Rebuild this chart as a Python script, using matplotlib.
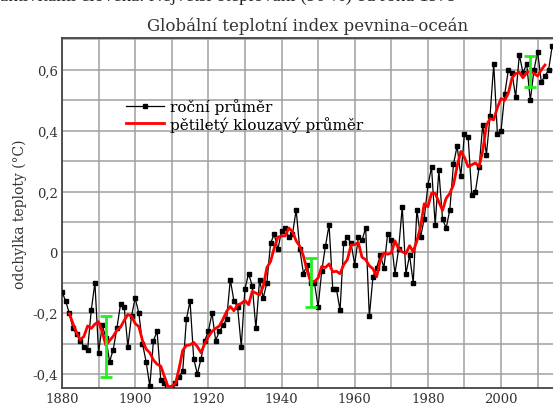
import numpy as np
import matplotlib
matplotlib.use("Agg")
import matplotlib.pyplot as plt
from matplotlib.ticker import MultipleLocator, FuncFormatter

years = list(range(1880, 2015))
annual = [
    -0.13, -0.16, -0.20, -0.25, -0.27, -0.29, -0.31, -0.32, -0.19, -0.10,  # 1880s
    -0.33, -0.24, -0.28, -0.36, -0.32, -0.25, -0.17, -0.18, -0.31, -0.21,  # 1890s
    -0.15, -0.20, -0.30, -0.36, -0.44, -0.29, -0.26, -0.42, -0.43, -0.47,  # 1900s
    -0.46, -0.43, -0.41, -0.39, -0.22, -0.16, -0.35, -0.40, -0.35, -0.29,  # 1910s
    -0.26, -0.20, -0.29, -0.26, -0.24, -0.22, -0.09, -0.16, -0.18, -0.31,  # 1920s
    -0.12, -0.07, -0.11, -0.25, -0.09, -0.15, -0.10, 0.03, 0.06, 0.01,     # 1930s
    0.07, 0.08, 0.05, 0.06, 0.14, 0.01, -0.07, -0.04, -0.10, -0.10,        # 1940s
    -0.18, -0.06, 0.02, 0.09, -0.12, -0.12, -0.19, 0.03, 0.05, 0.03,       # 1950s
    -0.04, 0.05, 0.04, 0.08, -0.21, -0.08, -0.05, -0.01, -0.05, 0.06,      # 1960s
    0.04, -0.07, 0.01, 0.15, -0.07, -0.01, -0.10, 0.14, 0.05, 0.11,        # 1970s
    0.22, 0.28, 0.09, 0.27, 0.11, 0.08, 0.14, 0.29, 0.35, 0.25,            # 1980s
    0.39, 0.38, 0.19, 0.20, 0.28, 0.42, 0.32, 0.45, 0.62, 0.39,            # 1990s
    0.40, 0.52, 0.60, 0.59, 0.51, 0.65, 0.59, 0.62, 0.50, 0.60,            # 2000s
    0.66, 0.56, 0.58, 0.60, 0.68,                                          # 2010s
]
err_years = [1892, 1948, 2008]
err_center = [-0.31, -0.10, 0.595]
err_half = [0.10, 0.08, 0.05]

years = np.array(years)
annual = np.array(annual)
# centred 5-year running mean
smooth = np.convolve(annual, np.ones(5) / 5, mode="valid")
smooth_years = years[2:-2]

plt.rcParams["font.family"] = ["DejaVu Serif"]
fig = plt.figure(figsize=(5.53, 4.10), dpi=100)
ax = fig.add_axes([0.1121, 0.0512, 0.8879, 0.853])

ax.plot(years, annual, "-", color="black", lw=0.9, marker="s", ms=3.2,
        label="roční průměr", zorder=3)
ax.plot(smooth_years, smooth, "-", color="red", lw=2, label="pětiletý klouzavý průměr",
        zorder=4)
ax.errorbar(err_years, err_center, yerr=err_half, fmt="none", ecolor="#22ee22",
            elinewidth=2, capsize=4, capthick=2, zorder=5)

ax.set_xlim(1880, 2014.2)
ax.set_ylim(-0.446, 0.704)
ax.xaxis.set_major_locator(MultipleLocator(20))
ax.xaxis.set_minor_locator(MultipleLocator(10))
ax.yaxis.set_major_locator(MultipleLocator(0.2))
ax.yaxis.set_minor_locator(MultipleLocator(0.1))
ax.yaxis.set_major_formatter(FuncFormatter(
    lambda v, p: "0" if abs(v) < 1e-9 else ("%.1f" % v).replace(".", ",")))
ax.grid(True, which="both", color="#a0a0a0", lw=1.1)
ax.set_axisbelow(True)
ax.tick_params(which="both", length=0, labelsize=9.5, colors="#333333", pad=3)
for s in ["left", "bottom", "top"]:
    ax.spines[s].set_color("#444444")
    ax.spines[s].set_linewidth(1.3)
ax.spines["right"].set_visible(False)

ax.set_ylabel("odchylka teploty (°C)", fontsize=10, color="#333333", labelpad=4)
ax.set_title("Globální teplotní index pevnina–oceán", fontsize=12, color="#333333",
             pad=6)
ax.legend(loc="upper left", bbox_to_anchor=(0.115, 0.85), frameon=False, fontsize=11,
          handlelength=2.5, handletextpad=0.4, labelspacing=0.1, borderpad=0)

# cut-off line of the surrounding page text
fig.text(0.0, 1.0 - 1 / 410, "aktivitami člověka. Největší oteplování (90 %) od roku 1979",
         fontsize=13.5, family="Liberation Serif", color="#222222", va="baseline")

plt.savefig("out.png", dpi=100)
plt.close()
